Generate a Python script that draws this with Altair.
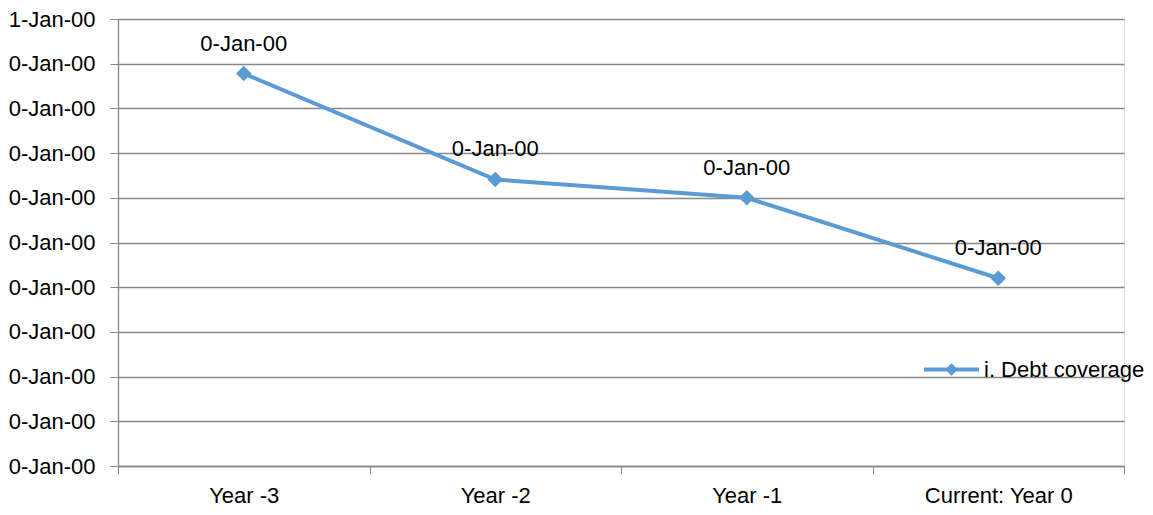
import altair as alt
import pandas as pd

categories = ["Year -3", "Year -2", "Year -1", "Current: Year 0"]
values = [0.878, 0.641, 0.600, 0.420]
series_name = "i. Debt coverage"
point_labels = ["0-Jan-00", "0-Jan-00", "0-Jan-00", "0-Jan-00"]
y_ticks = [0, 0.1, 0.2, 0.3, 0.4, 0.5, 0.6, 0.7, 0.8, 0.9, 1.0]

df = pd.DataFrame({
    "cat": categories,
    "val": values,
    "series": [series_name] * len(categories),
    "lab": point_labels,
})

FONT = "Liberation Sans, Arial, sans-serif"
FS = 22
BLUE = "#5B9BD5"

x_enc = alt.X("cat:N", sort=categories, title=None,
              scale=alt.Scale(paddingInner=0, paddingOuter=0, round=False),
              axis=alt.Axis(labelAngle=0, labelFontSize=FS, labelFont=FONT, labelColor="#000",
                            domainColor="#888", tickColor="#888", tickSize=8, tickBand="extent",
                            labelPadding=11, grid=False, domainWidth=1.3))
y_enc = alt.Y("val:Q", title=None,
              scale=alt.Scale(domain=[0, 1], nice=False, zero=True),
              axis=alt.Axis(values=y_ticks,
                            labelExpr="datum.value >= 0.999 ? '1-Jan-00' : '0-Jan-00'",
                            labelFontSize=FS, labelFont=FONT, labelColor="#000",
                            domainColor="#888", tickColor="#888", tickSize=8,
                            gridColor="#888", gridWidth=1.3, domainWidth=1.3,
                            labelPadding=15))

legend_path = "M-1,-0.07H1V0.07H-1Z M0,-0.23L0.23,0L0,0.23L-0.23,0Z"

line = alt.Chart(df).mark_line(strokeWidth=4).encode(
    x=x_enc, y=y_enc,
    color=alt.Color("series:N", title=None,
                    scale=alt.Scale(range=[BLUE]),
                    legend=alt.Legend(orient="none", legendX=806, legendY=323,
                                      symbolType=legend_path, symbolSize=3025,
                                      symbolFillColor=BLUE, symbolStrokeColor=BLUE,
                                      symbolStrokeWidth=0, labelLimit=400,
                                      labelFont=FONT, labelFontSize=FS, labelColor="#000",
                                      labelOffset=5)),
)

points = alt.Chart(df).mark_point(shape="diamond", filled=True, size=240, color=BLUE, opacity=1).encode(
    x=alt.X("cat:N", sort=categories), y="val:Q",
)

text = alt.Chart(df).mark_text(dy=-30, fontSize=FS, font=FONT, color="#000").encode(
    x=alt.X("cat:N", sort=categories), y="val:Q", text="lab:N",
)

chart = alt.layer(line, points, text).properties(
    width=1006, height=447,
    padding={"left": 110, "top": 11, "right": 21, "bottom": 41},
    autosize=alt.AutoSizeParams(type="none"),
).configure_view(stroke=None).configure(background="white")

chart.save("out.html", embed_options={"renderer": "svg", "actions": False})
